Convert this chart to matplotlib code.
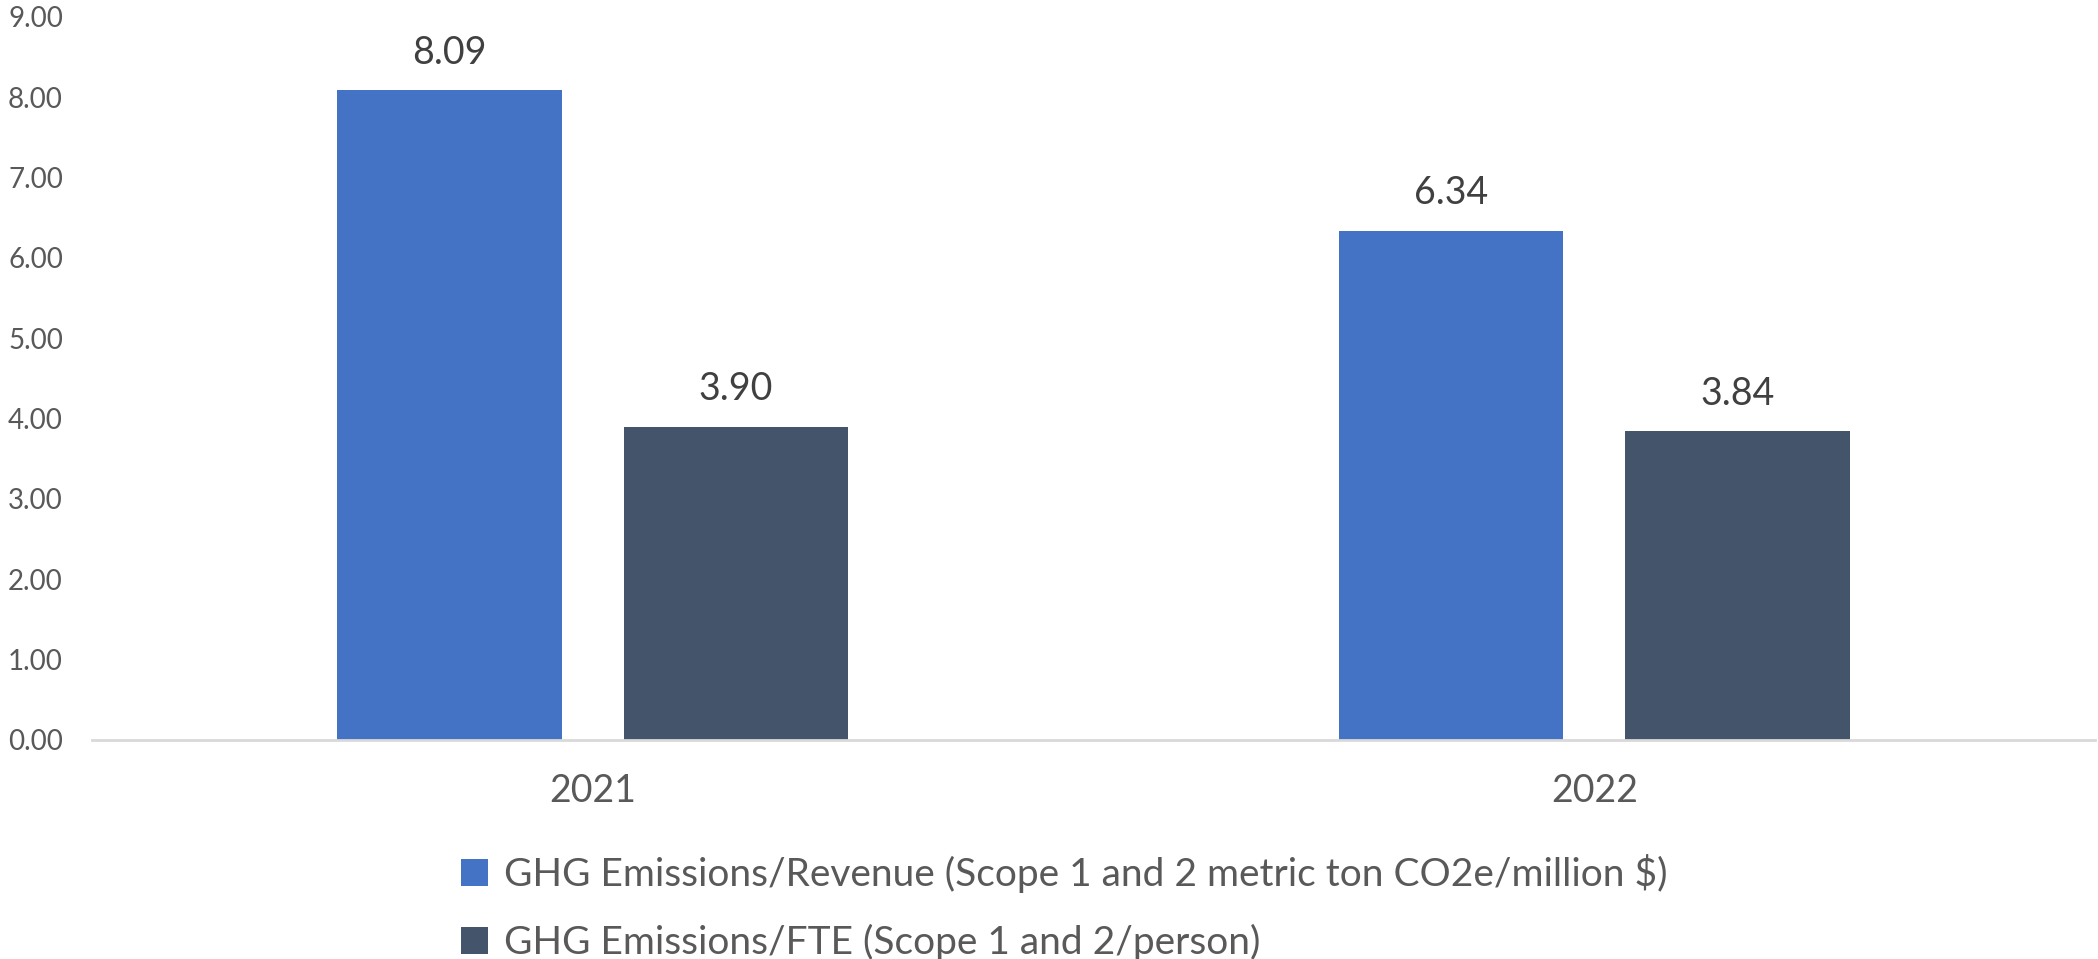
import matplotlib.pyplot as plt
import numpy as np

years = ['2021', '2022']
revenue_vals = [8.09, 6.34]
fte_vals = [3.90, 3.84]
series_names = ['GHG Emissions/Revenue (Scope 1 and 2 metric ton CO2e/million $)',
                'GHG Emissions/FTE (Scope 1 and 2/person)']
yticks = [0, 1, 2, 3, 4, 5, 6, 7, 8, 9]

plt.rcParams['font.family'] = ['Lato', 'DejaVu Sans']

fig = plt.figure(figsize=(20.98, 9.59), dpi=100)
ax = fig.add_axes([0.0439, 0.2284, 0.9547, 0.7539])

x = np.arange(len(years))
w, off = 0.224, 0.143
b1 = ax.bar(x - off, revenue_vals, w, color='#4472C4', label=series_names[0])
b2 = ax.bar(x + off, fte_vals, w, color='#44546A', label=series_names[1])

for bars in (b1, b2):
    ax.bar_label(bars, labels=['%.2f' % v for v in bars.datavalues],
                 padding=14, fontsize=27, color='#404040')

ax.set_xlim(-0.5, 1.5)
ax.set_ylim(0, 9)
ax.set_yticks(yticks)
ax.set_yticklabels(['%.2f' % t for t in yticks])
ax.set_xticks(x)
ax.set_xticklabels(years)

for s in ['top', 'right', 'left']:
    ax.spines[s].set_visible(False)
ax.spines['bottom'].set_color('#D9D9D9')
ax.spines['bottom'].set_linewidth(2)
ax.tick_params(axis='y', length=0, pad=21, labelsize=20, labelcolor='#595959')
ax.tick_params(axis='x', length=0, pad=24, labelsize=27, labelcolor='#595959')

fig.legend(handles=[b1, b2], loc='upper left', bbox_to_anchor=(0.203, 0.146),
           frameon=False, fontsize=28, labelcolor='#595959',
           handlelength=0.7, handleheight=0.7, handletextpad=0.4, labelspacing=0.8)

fig.savefig('out.png', dpi=100)
